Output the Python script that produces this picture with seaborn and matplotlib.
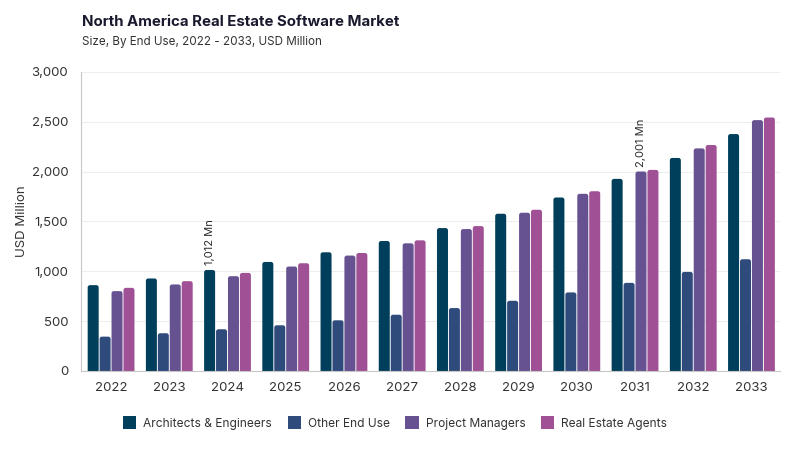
import matplotlib
matplotlib.use("Agg")
import matplotlib.pyplot as plt
import seaborn as sns
import pandas as pd
from matplotlib.patches import FancyBboxPatch

years = ["2022", "2023", "2024", "2025", "2026", "2027", "2028", "2029", "2030", "2031", "2032", "2033"]
architects = [860, 927, 1012, 1093, 1190, 1303, 1433, 1577, 1740, 1927, 2137, 2377]
other = [343, 377, 417, 457, 507, 563, 630, 703, 787, 883, 993, 1120]
project_mgrs = [800, 867, 950, 1047, 1157, 1280, 1423, 1587, 1777, 2001, 2233, 2517]
agents = [833, 900, 983, 1080, 1183, 1310, 1453, 1617, 1803, 2017, 2267, 2543]
series_names = ["Architects & Engineers", "Other End Use", "Project Managers", "Real Estate Agents"]
colors = ["#003f5c", "#2f4b7c", "#665191", "#a05195"]

rows = []
for name, vals in zip(series_names, [architects, other, project_mgrs, agents]):
    for y, v in zip(years, vals):
        rows.append({"Year": y, "Segment": name, "Value": v})
df = pd.DataFrame(rows)

sns.set_style("white")
plt.rcParams["font.family"] = ["Inter", "DejaVu Sans"]

fig = plt.figure(figsize=(8, 4.5), dpi=100)
L, B, W, H = 0.101, 0.176, 0.874, 0.664
ax = fig.add_axes([L, B, W, H])

sns.barplot(data=df, x="Year", y="Value", hue="Segment", palette=colors,
            width=0.82, ax=ax, legend=False, saturation=1, edgecolor="white", linewidth=0.8)

x0, x1 = -0.52, 11.49
ax.set_ylim(0, 3000)
ax.set_xlim(x0, x1)

# rounded tops
xper = (x1 - x0) / (W * 800)
yper = 3000 / (H * 450)
aspect = yper / xper
for p in list(ax.patches):
    x, w, h = p.get_x(), p.get_width(), p.get_height()
    fc = p.get_facecolor()
    p.set_visible(False)
    r = 0.04
    fb = FancyBboxPatch((x + 0.008, -60), w - 0.016, h + 60,
                        boxstyle=f"round,pad=0,rounding_size={r}",
                        mutation_aspect=aspect, facecolor=fc, edgecolor="none", clip_on=True)
    ax.add_patch(fb)

ax.yaxis.grid(True, color="#eeeeee", linewidth=0.8)
ax.set_axisbelow(True)
for s in ["top", "right"]:
    ax.spines[s].set_visible(False)
ax.spines["left"].set_color("#c8c8c8")
ax.spines["bottom"].set_color("#c8c8c8")
ticks = [0, 500, 1000, 1500, 2000, 2500, 3000]
ax.set_yticks(ticks)
ax.set_yticklabels([f"{v:,}" for v in ticks])
ax.tick_params(axis="y", length=5, color="#c8c8c8", labelsize=9.5, labelcolor="#333333", pad=4)
ax.tick_params(axis="x", length=0, labelsize=9.5, labelcolor="#333333", pad=8)
ax.set_xlabel("")
ax.set_ylabel("USD Million", fontsize=9.5, color="#333333", labelpad=3)

# annotations
n = len(series_names)
bw = 0.82 / n
i24 = years.index("2024")
ax.text(i24 - 1.5 * bw, architects[i24] + 50, "1,012 Mn", rotation=90, ha="center", va="bottom",
        fontsize=8, color="#2a2a2a")
i31 = years.index("2031")
ax.text(i31 + 0.5 * bw, project_mgrs[i31] + 50, "2,001 Mn", rotation=90, ha="center", va="bottom",
        fontsize=8, color="#2a2a2a")

fig.text(0.1025, 0.952, "North America Real Estate Software Market", fontsize=10.8, fontweight="bold",
         color="#1a1a2e", ha="left", va="center")
fig.text(0.1025, 0.907, "Size, By End Use, 2022 - 2033, USD Million", fontsize=8.4,
         color="#333333", ha="left", va="center")

handles = [FancyBboxPatch((0, 0), 1, 1, boxstyle="round,pad=0,rounding_size=0.3", facecolor=c, edgecolor="none")
           for c in colors]
fig.legend(handles, series_names, loc="center", bbox_to_anchor=(0.494, 0.06), ncol=4, frameon=False,
           fontsize=8.6, handlelength=1.1, handleheight=1.3, handletextpad=0.6, columnspacing=1.3,
           labelcolor="#333333")

fig.savefig("out.png", dpi=100)
